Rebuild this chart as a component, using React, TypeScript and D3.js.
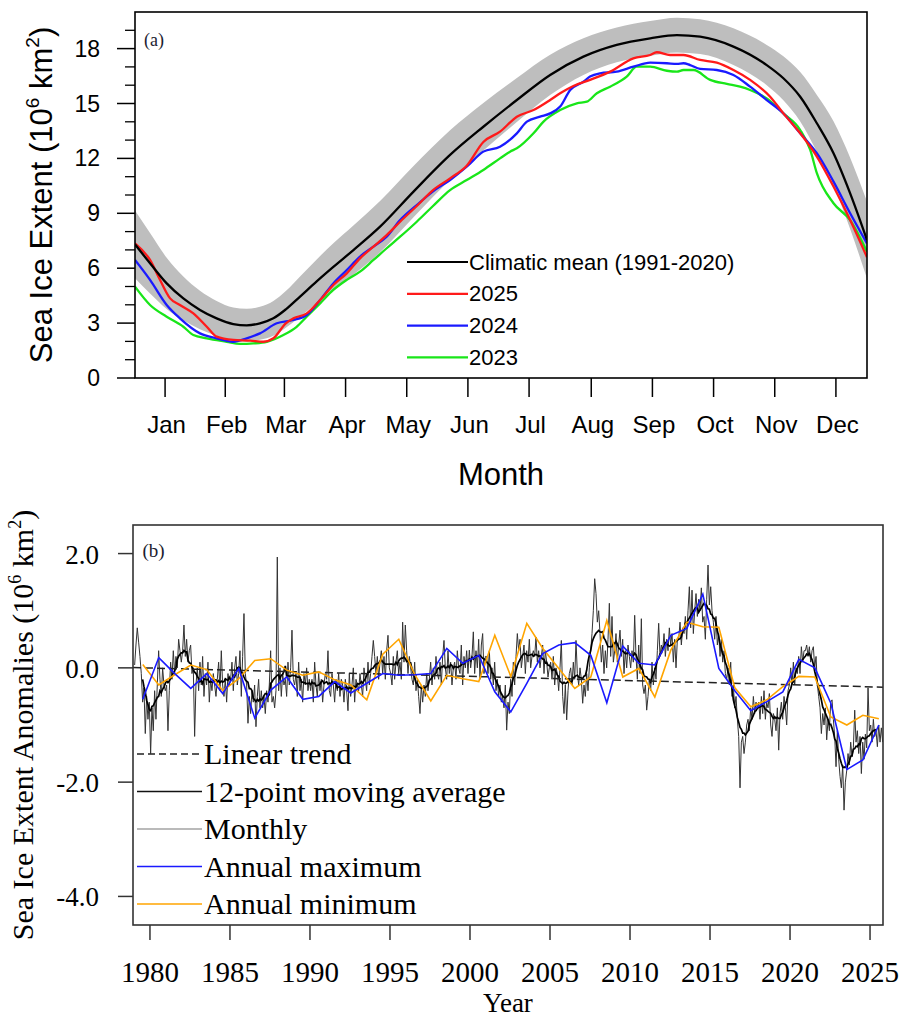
import React from "react";
import * as d3 from "d3";

// ---------- Panel (a): seasonal cycle of sea ice extent (10^6 km^2) ----------
const monthLabels = ["Jan", "Feb", "Mar", "Apr", "May", "Jun", "Jul", "Aug", "Sep", "Oct", "Nov", "Dec"];
const monthTickDays = [16, 46, 75.5, 106, 136.5, 167, 197.5, 228.5, 259, 289.5, 320, 350.5];
const extentTicks = [0, 3, 6, 9, 12, 15, 18];
const extentMinorTicks = [1, 2, 4, 5, 7, 8, 10, 11, 13, 14, 16, 17, 19];

// Climatic mean 1991-2020: [day of year, mean extent, half-width of shaded range]
const climatology: [number, number, number][] = [
  [1, 7.3, 1.85], [8.5, 6.27, 1.65], [16.8, 5.17, 1.4], [25.1, 4.35, 1.2],
  [33.4, 3.72, 1.05], [41.7, 3.26, 0.95], [50, 2.95, 0.9], [56.7, 2.88, 0.9],
  [63.3, 2.99, 0.9], [70, 3.26, 0.95], [76.2, 3.75, 1.0], [83.3, 4.45, 1.1],
  [91.6, 5.28, 1.2], [99.9, 6.07, 1.3], [109.9, 6.99, 1.35], [123.2, 8.27, 1.4],
  [140, 10.2, 1.4], [158.1, 12.19, 1.35], [174.7, 13.73, 1.3], [191.4, 15.19, 1.2],
  [208, 16.56, 1.1], [224.6, 17.56, 1.0], [241.2, 18.2, 0.95], [257.9, 18.56, 0.95],
  [271.2, 18.74, 0.95], [282.8, 18.65, 0.95], [299.4, 18.11, 1.0], [316, 17.1, 1.1],
  [324.3, 16.38, 1.2], [332.7, 15.37, 1.35], [341, 13.92, 1.55], [349.3, 12.28, 1.75],
  [357.6, 10.09, 1.95], [366, 7.54, 2.1],
];

// Daily extent for individual years: [day of year, extent]
const extent2025: [number, number][] = [
  [1, 7.36], [8.5, 6.45], [13.5, 5.36], [18.5, 4.35], [23.4, 3.99], [30.1, 3.53], [36.8, 2.8],
  [41.7, 2.26], [50, 2.08], [58.4, 2.04], [65, 1.98], [70, 2.17], [76.2, 2.99], [80, 3.26],
  [86.6, 3.53], [93.3, 4.26], [99.9, 5.08], [106.6, 5.72], [113.2, 6.54], [119.9, 7.18],
  [126.5, 7.81], [133.2, 8.54], [141.5, 9.4], [149.6, 10.27], [158.1, 10.91], [166.4, 11.6],
  [174.7, 12.9], [183, 13.46], [191.4, 14.28], [199.7, 14.64], [208, 15.19], [213, 15.56],
  [219.6, 15.96], [227.9, 16.29], [237.9, 16.74], [249.5, 17.47], [257.9, 17.65], [261.2, 17.8],
  [267.8, 17.65], [274.5, 17.65], [282.8, 17.38], [291.1, 17.23], [299.4, 16.83], [307.7, 16.29],
  [317.7, 15.37], [324.3, 14.46], [332.7, 13.37], [341, 12.1], [349.3, 10.46], [357.6, 8.63],
  [366, 6.6],
];

const extent2024: [number, number][] = [
  [1, 6.45], [8.5, 5.36], [16.8, 3.99], [23.4, 3.26], [33.4, 2.44], [41.7, 2.17], [50, 1.98],
  [56.7, 2.17], [63.3, 2.44], [71.7, 2.99], [80, 3.17], [86.6, 3.44], [93.3, 4.26], [99.9, 5.17],
  [106.6, 5.9], [113.2, 6.63], [119.9, 7.18], [126.5, 7.72], [133.2, 8.63], [141.5, 9.45],
  [149.6, 10.2], [158.1, 10.82], [166.4, 11.55], [174.7, 12.37], [183, 12.64], [191.4, 13.37],
  [196.4, 14.01], [203, 14.28], [208, 14.46], [213, 14.83], [218, 15.74], [224.6, 16.19],
  [227.9, 16.47], [232.9, 16.65], [241.2, 16.74], [249.5, 17.01], [257.9, 17.23], [266.2, 17.2],
  [271.2, 17.16], [274.5, 17.2], [277.8, 17.1], [282.8, 16.89], [291.1, 16.83], [299.4, 16.56],
  [307.7, 15.92], [316, 15.19], [324.3, 14.46], [332.7, 13.37], [341, 12.28], [349.3, 10.73],
  [357.6, 9.0], [366, 7.35],
];

const extent2023: [number, number][] = [
  [1, 4.99], [8.5, 3.99], [16.8, 3.35], [25.1, 2.8], [30.1, 2.35], [36.8, 2.17], [46.7, 1.98],
  [53.4, 1.86], [60, 1.89], [66.7, 1.98], [75, 2.35], [81.6, 2.8], [86.6, 3.35], [93.3, 4.08],
  [99.9, 4.81], [106.6, 5.36], [113.2, 5.81], [119.9, 6.45], [126.5, 7.09], [133.2, 7.72],
  [141.5, 8.54], [149.6, 9.4], [158.1, 10.27], [166.4, 10.82], [174.7, 11.37], [183, 12.0],
  [188, 12.37], [191.4, 12.55], [199.7, 13.37], [204.7, 14.01], [213, 14.64], [221.3, 15.01],
  [226.3, 15.1], [231.3, 15.56], [237.9, 15.92], [246.2, 16.47], [251.2, 17.01], [257.9, 17.01],
  [266.2, 16.79], [271.2, 16.74], [274.5, 16.83], [279.5, 16.83], [287.8, 16.29], [296.1, 16.07],
  [302.7, 15.92], [307.7, 15.74], [316, 15.28], [324.3, 14.46], [332.7, 13.55], [337.7, 12.46],
  [341, 11.19], [349.3, 9.55], [357.6, 8.63], [366, 6.9],
];

// ---------- Panel (b): monthly extent anomalies (10^6 km^2) ----------
const firstYear = 1979;
// One row per year, January to December (last year ends in October)
const monthlyAnomalies: number[][] = [
  [0.05, 0.4, 0.7, 0.45, 0.2, -0.1, -0.6, -0.35, -1.15, -0.5, -0.9, -0.6], // 1979
  [-1.5, -0.7, -1.1, -0.4, -0.9, -0.3, 0.3, -0.2, -0.5, 0.0, -0.3, -0.4],
  [-0.3, -1.1, -0.4, 0.1, -0.2, 0.3, -0.1, 0.2, 0.0, 0.5, 0.3, 0.1],
  [0.3, 0.75, 0.2, 0.5, 0.1, 0.3, 0.4, -0.1, 0.0, -1.2, -0.3, 0.0],
  [-0.4, 0.1, -0.3, 0.2, -0.5, -0.1, -0.3, 0.1, -0.6, -0.2, -0.4, -0.1],
  [-0.3, -0.5, -0.2, 0.1, -0.4, 0.3, -0.3, -0.5, -0.2, -0.6, -0.1, -0.3], // 1984
  [-0.2, 0.1, -0.4, 0.0, 0.2, -0.3, -0.1, 0.3, -0.5, 0.2, 0.95, -0.1],
  [-0.3, -0.97, -0.5, -0.8, -0.4, -0.6, -0.3, -1.03, -0.5, -0.2, -0.7, -0.4],
  [-0.7, -0.5, -0.8, -0.4, -0.6, -0.3, 0.3, -0.6, -0.5, -0.7, -0.4, 1.94],
  [-0.4, 0.0, -0.5, -0.1, -0.3, -0.2, -0.5, 0.1, -0.3, 0.0, 0.66, -0.2],
  [-0.3, -0.1, -0.5, 0.1, -0.4, -0.2, -0.6, -0.1, -0.3, 0.0, -0.4, -0.2], // 1989
  [-0.4, -0.2, -0.6, 0.1, -0.3, -0.5, -0.1, -0.4, -0.2, -0.6, -0.3, -0.1],
  [-0.2, 0.3, -0.4, -0.5, -0.1, -0.3, -0.6, -0.2, -0.4, -0.1, -0.5, -0.2],
  [-0.3, -0.6, -0.2, -0.4, -0.75, -0.1, -0.5, -0.3, 0.0, -0.6, -0.2, -0.3],
  [-0.4, -0.1, -0.3, -0.5, 0.0, -0.2, -0.4, 0.1, -0.3, -0.1, 0.2, 0.48],
  [0.2, -0.1, 0.2, -0.2, 0.1, 0.3, -0.1, 0.2, -0.2, 0.3, 0.57, 0.0], // 1994
  [-0.1, -0.3, 0.2, -0.2, 0.1, 0.3, -0.1, 0.1, -0.2, 0.8, 0.1, 0.75],
  [0.3, -0.1, 0.2, 0.0, -0.2, -0.3, 0.1, -0.4, -0.2, -0.5, -0.8, -0.3],
  [-0.6, -0.3, -0.5, -0.1, -0.4, -0.2, 0.1, -0.3, 0.0, -0.2, 0.2, -0.1],
  [-0.2, 0.1, -0.3, 0.2, 0.48, 0.0, -0.2, 0.3, -0.1, 0.1, -0.3, 0.0],
  [0.1, -0.2, 0.3, 0.0, -0.1, 0.4, -0.3, 0.2, 0.0, 0.3, -0.1, 0.31], // 1999
  [0.0, 0.2, 0.63, -0.1, 0.3, 0.0, 0.5, -0.2, 0.4, 0.6, -0.1, 0.2],
  [0.2, -0.1, 0.3, -0.2, 0.0, -0.3, 0.1, -0.4, -0.2, -0.5, -0.3, -0.6],
  [-0.5, -0.7, -0.3, -1.09, -0.6, -0.8, -0.2, -0.5, 0.1, -0.3, 0.2, 0.6],
  [0.3, 0.5, 0.0, 0.2, 0.4, -0.1, 0.3, 0.1, 0.5, 0.0, 0.2, 0.3],
  [0.2, 0.54, 0.1, 0.3, 0.0, 0.2, 0.4, -0.1, 0.3, 0.1, -0.16, 0.0], // 2004
  [0.1, -0.2, 0.2, -0.3, 0.0, -0.1, -0.4, 0.0, 0.48, -0.5, -0.8, -0.3],
  [-0.91, -0.4, -0.1, 0.0, -0.3, 0.1, -0.2, 0.48, -0.1, -0.3, 0.0, -0.2],
  [-0.62, -0.3, -0.5, -0.1, -0.4, 0.0, 0.3, 0.6, 1.0, 1.56, 1.3, 0.8],
  [1.0, 0.6, 0.1, 0.4, -0.1, 0.3, 0.0, 0.5, 1.13, 0.2, 0.9, 0.1],
  [0.3, 0.6, 0.1, 0.4, 0.66, 0.2, 0.5, -0.1, 0.3, 0.0, 0.4, 0.2], // 2009
  [0.0, 0.3, 0.1, 0.92, 0.2, -0.2, 0.4, -0.1, 0.86, -0.3, -0.45, -0.3],
  [-0.74, -0.5, -0.2, -0.4, 0.1, -0.3, 0.0, -0.2, 0.3, 0.78, 0.2, 0.4],
  [0.3, 0.6, 0.2, 0.5, 0.3, 0.7, 0.4, 0.6, 0.1, 0.5, 0.0, 0.5],
  [0.5, 0.8, 0.4, 0.7, 0.6, 0.9, 0.5, 1.0, 1.42, 0.7, 1.36, 0.6],
  [1.0, 1.3, 0.9, 1.2, 1.0, 1.4, 0.8, 0.9, 0.5, 1.2, 1.8, 1.1], // 2014
  [1.42, 1.0, 0.8, 0.5, 0.9, 0.4, 0.6, 0.2, 0.5, 0.1, 0.3, -0.1],
  [-0.2, 0.0, -0.3, 0.1, -0.5, -0.3, -0.7, -0.5, -0.9, -1.2, -2.1, -1.3],
  [-1.2, -1.5, -1.3, -1.0, -0.9, -1.1, -0.7, -0.9, -0.5, -0.8, -0.6, -0.7],
  [-0.6, -0.9, -0.5, -0.8, -0.4, -0.9, -0.6, -0.7, -0.45, -1.0, -1.2, -0.8],
  [-0.9, -1.1, -0.7, -1.44, -0.8, -0.6, -0.9, -0.5, -0.7, -1.0, -0.4, -0.3], // 2019
  [0.0, -0.3, 0.1, -0.3, 0.0, -0.1, 0.2, -0.1, 0.37, 0.1, 0.3, 0.3],
  [0.4, 0.2, 0.37, 0.1, 0.3, 0.37, 0.0, 0.2, -0.3, -0.5, -0.7, -1.15],
  [-0.8, -1.0, -0.7, -1.26, -0.9, -1.1, -0.6, -0.56, -0.9, -1.2, -1.73, -1.1],
  [-1.6, -1.9, -2.1, -1.7, -2.49, -2.0, -1.8, -1.5, -1.7, -1.3, -1.56, -1.4],
  [-0.74, -1.3, -1.1, -1.5, -1.2, -1.85, -1.3, -1.6, -1.16, -1.4, -0.35, -1.1], // 2024
  [-1.0, -1.3, -0.9, -1.2, -1.1, -1.38, -1.0, -1.3, -1.05, -1.3],
];

// Anomaly of the annual maximum / minimum extent, 1979-2025
const annualMaxAnomaly = [
  -0.55, 0.18, -0.1, -0.36, -0.1, -0.45, -0.01, -0.88, -0.39, -0.16,
  -0.55, -0.5, -0.24, -0.44, -0.27, -0.1, -0.13, -0.12, -0.1, 0.34,
  0.08, 0.22, -0.42, -0.77, -0.27, 0.25, 0.4, 0.44, 0.22, -0.61,
  0.38, 0.08, 0.05, 0.57, 0.69, 1.29, -0.01, -0.4, -0.75, -0.59,
  -0.42, 0.15, 0.0, -0.62, -1.78, -1.61, -1.0,
];
const annualMinAnomaly = [
  0.06, -0.3, -0.12, 0.05, -0.03, -0.4, -0.19, 0.13, 0.16, -0.04,
  -0.13, -0.07, -0.21, -0.3, -0.56, 0.24, 0.5, -0.12, -0.58, -0.13,
  -0.19, -0.24, 0.57, -0.15, 0.78, 0.34, -0.01, -0.36, -0.16, 0.83,
  -0.16, -0.01, -0.51, 0.31, 0.8, 0.72, 0.71, -0.35, -0.68, -0.56,
  -0.33, -0.15, -0.16, -0.86, -1.0, -0.83, -0.89,
];

const yearTicks = [1980, 1985, 1990, 1995, 2000, 2005, 2010, 2015, 2020, 2025];
const anomalyTicks = [2, 0, -2, -4];

// ---------- layout ----------
const W = 902;
const H = 1020;
const A = { left: 135, right: 867, top: 12, bottom: 378 };
const B = { left: 133, right: 883, top: 525, bottom: 925 };
const SANS = "'Liberation Sans', Arial, Helvetica, sans-serif";
const SERIF = "'Liberation Serif', 'Times New Roman', serif";

const RED = "#ff1a1a";
const BLUE = "#1a1aff";
const GREEN = "#19e619";
const ORANGE = "#ffa500";

type Pt = { t: number; v: number };

export default function App() {
  // ----- panel (a) scales and shapes -----
  const xA = d3.scaleLinear().domain([1, 366]).range([A.left, A.right]);
  const yA = d3.scaleLinear().domain([0, 20]).range([A.bottom, A.top]);
  const lineA = d3
    .line<[number, number]>()
    .x((d) => xA(d[0]))
    .y((d) => yA(d[1]))
    .curve(d3.curveMonotoneX);
  const meanPath = d3
    .line<[number, number, number]>()
    .x((d) => xA(d[0]))
    .y((d) => yA(d[1]))
    .curve(d3.curveMonotoneX)(climatology);
  const bandPath = d3
    .area<[number, number, number]>()
    .x((d) => xA(d[0]))
    .y0((d) => yA(d[1] - d[2]))
    .y1((d) => yA(d[1] + d[2]))
    .curve(d3.curveMonotoneX)(climatology);

  const legendA = [
    { label: "Climatic mean (1991-2020)", color: "#000" },
    { label: "2025", color: RED },
    { label: "2024", color: BLUE },
    { label: "2023", color: GREEN },
  ];

  // ----- panel (b) scales and derived series -----
  const xB = d3.scaleLinear().domain([1978.94, 2025.81]).range([B.left, B.right]);
  const yB = d3.scaleLinear().domain([-4.5, 2.5]).range([B.bottom, B.top]);

  const monthly: Pt[] = monthlyAnomalies.flatMap((row, yi) =>
    row.map((v, m) => ({ t: firstYear + yi + (m + 0.5) / 12, v }))
  );

  // centred 12-month running mean (only where the full window exists)
  const movingAvg: Pt[] = [];
  for (let i = 6; i + 6 <= monthly.length; i++) {
    const w = monthly.slice(i - 6, i + 6);
    movingAvg.push({ t: monthly[i].t, v: d3.mean(w, (e) => e.v) as number });
  }

  // least-squares linear trend of the monthly anomalies
  const tMean = d3.mean(monthly, (d) => d.t) as number;
  const vMean = d3.mean(monthly, (d) => d.v) as number;
  const slope =
    (d3.sum(monthly, (d) => (d.t - tMean) * (d.v - vMean)) as number) /
    (d3.sum(monthly, (d) => (d.t - tMean) ** 2) as number);
  const [t0, t1] = xB.domain();
  const trend: Pt[] = [
    { t: t0, v: vMean + slope * (t0 - tMean) },
    { t: t1, v: vMean + slope * (t1 - tMean) },
  ];

  const annualMax: Pt[] = annualMaxAnomaly.map((v, i) => ({ t: firstYear + i + 0.55, v }));
  const annualMin: Pt[] = annualMinAnomaly.map((v, i) => ({ t: firstYear + i + 0.55, v }));

  const lineB = d3
    .line<Pt>()
    .x((d) => xB(d.t))
    .y((d) => yB(d.v));

  const legendB = [
    { label: "Linear trend", color: "#222", width: 1.5, dash: "7,4" },
    { label: "12-point moving average", color: "#111", width: 1.6, dash: undefined },
    { label: "Monthly", color: "#777", width: 1.2, dash: undefined },
    { label: "Annual maximum", color: BLUE, width: 1.6, dash: undefined },
    { label: "Annual minimum", color: ORANGE, width: 1.6, dash: undefined },
  ];

  return (
    <svg
      width={W}
      height={H}
      viewBox={`0 0 ${W} ${H}`}
      style={{ position: "absolute", left: 0, top: 0, background: "#fff" }}
    >
      <defs>
        <clipPath id="clip-a">
          <rect x={A.left} y={A.top} width={A.right - A.left} height={A.bottom - A.top} />
        </clipPath>
        <clipPath id="clip-b">
          <rect x={B.left} y={B.top} width={B.right - B.left} height={B.bottom - B.top} />
        </clipPath>
      </defs>

      {/* ================= Panel (a) ================= */}
      <g clipPath="url(#clip-a)">
        <path d={bandPath || ""} fill="#bebebe" stroke="none" />
        <path d={lineA(extent2023) || ""} fill="none" stroke={GREEN} strokeWidth={2.3} />
        <path d={lineA(extent2024) || ""} fill="none" stroke={BLUE} strokeWidth={2.3} />
        <path d={lineA(extent2025) || ""} fill="none" stroke={RED} strokeWidth={2.3} />
        <path d={meanPath || ""} fill="none" stroke="#000" strokeWidth={2.3} />
      </g>

      {/* legend (a) */}
      {legendA.map((d, i) => {
        const y = 262 + i * 31.8;
        return (
          <g key={d.label}>
            <line x1={407} x2={468} y1={y} y2={y} stroke={d.color} strokeWidth={2.2} />
            <text x={469} y={y + 7.5} fontFamily={SANS} fontSize={22} fill="#000">
              {d.label}
            </text>
          </g>
        );
      })}

      {/* axes (a) */}
      <rect
        x={A.left}
        y={A.top}
        width={A.right - A.left}
        height={A.bottom - A.top}
        fill="none"
        stroke="#000"
        strokeWidth={1.6}
      />
      {extentTicks.map((v) => (
        <g key={`ya${v}`}>
          <line x1={A.left - 18} x2={A.left} y1={yA(v)} y2={yA(v)} stroke="#000" strokeWidth={1.5} />
          <text
            x={100}
            y={yA(v) + 8}
            textAnchor="end"
            fontFamily={SANS}
            fontSize={23}
            fill="#000"
          >
            {v}
          </text>
        </g>
      ))}
      {extentMinorTicks.map((v) => (
        <line
          key={`yam${v}`}
          x1={A.left - 10}
          x2={A.left}
          y1={yA(v)}
          y2={yA(v)}
          stroke="#000"
          strokeWidth={1.3}
        />
      ))}
      {monthTickDays.map((day, i) => (
        <g key={`xa${i}`}>
          <line x1={xA(day)} x2={xA(day)} y1={A.bottom} y2={A.bottom + 19} stroke="#000" strokeWidth={1.5} />
          <text
            x={xA(day) + 1.5}
            y={433}
            textAnchor="middle"
            fontFamily={SANS}
            fontSize={24}
            fill="#000"
          >
            {monthLabels[i]}
          </text>
        </g>
      ))}
      <text x={(A.left + A.right) / 2} y={485} textAnchor="middle" fontFamily={SANS} fontSize={31} fill="#000">
        Month
      </text>
      <text
        transform={`translate(52,${(A.top + A.bottom) / 2}) rotate(-90)`}
        textAnchor="middle"
        fontFamily={SANS}
        fontSize={31}
        fill="#000"
      >
        Sea Ice Extent (10
        <tspan fontSize={19} dy={-13}>
          6
        </tspan>
        <tspan dy={13}> km</tspan>
        <tspan fontSize={19} dy={-13}>
          2
        </tspan>
        <tspan dy={13}>)</tspan>
      </text>
      <text x={144} y={46} fontFamily={SERIF} fontSize={18} fill="#1c1c30">
        (a)
      </text>

      {/* ================= Panel (b) ================= */}
      <g clipPath="url(#clip-b)">
        <path d={lineB(monthly) || ""} fill="none" stroke="#333" strokeWidth={1} strokeLinejoin="round" />
        <path d={lineB(movingAvg) || ""} fill="none" stroke="#000" strokeWidth={1.7} />
        <path d={lineB(trend) || ""} fill="none" stroke="#222" strokeWidth={1.5} strokeDasharray="8,4" />
        <path d={lineB(annualMin) || ""} fill="none" stroke={ORANGE} strokeWidth={1.6} />
        <path d={lineB(annualMax) || ""} fill="none" stroke={BLUE} strokeWidth={1.6} />
      </g>

      {/* legend (b) */}
      {legendB.map((d, i) => {
        const y = 754 + i * 37.5;
        return (
          <g key={d.label}>
            <line
              x1={137}
              x2={202}
              y1={y}
              y2={y}
              stroke={d.color}
              strokeWidth={d.width}
              strokeDasharray={d.dash}
            />
            <text x={204} y={y + 10} fontFamily={SERIF} fontSize={30} fill="#000">
              {d.label}
            </text>
          </g>
        );
      })}

      {/* axes (b) */}
      <rect
        x={B.left}
        y={B.top}
        width={B.right - B.left}
        height={B.bottom - B.top}
        fill="none"
        stroke="#333"
        strokeWidth={1.6}
      />
      {anomalyTicks.map((v) => (
        <g key={`yb${v}`}>
          <line x1={B.left - 15} x2={B.left} y1={yB(v)} y2={yB(v)} stroke="#333" strokeWidth={1.5} />
          <text x={99} y={yB(v) + 10} textAnchor="end" fontFamily={SERIF} fontSize={27} fill="#000">
            {v.toFixed(1)}
          </text>
        </g>
      ))}
      {yearTicks.map((yr) => (
        <g key={`xb${yr}`}>
          <line x1={xB(yr)} x2={xB(yr)} y1={B.bottom} y2={B.bottom + 15} stroke="#333" strokeWidth={1.5} />
          <text x={xB(yr)} y={982} textAnchor="middle" fontFamily={SERIF} fontSize={29} fill="#000">
            {yr}
          </text>
        </g>
      ))}
      <text x={(B.left + B.right) / 2} y={1012} textAnchor="middle" fontFamily={SERIF} fontSize={27} fill="#000">
        Year
      </text>
      <text
        transform={`translate(33,${(B.top + B.bottom) / 2}) rotate(-90)`}
        textAnchor="middle"
        fontFamily={SERIF}
        fontSize={30}
        fill="#000"
      >
        Sea Ice Extent Anomalies (10
        <tspan fontSize={18} dy={-12}>
          6
        </tspan>
        <tspan dy={12}> km</tspan>
        <tspan fontSize={18} dy={-12}>
          2
        </tspan>
        <tspan dy={12}>)</tspan>
      </text>
      <text x={142.5} y={557} fontFamily={SERIF} fontSize={19} fill="#1c1c30">
        (b)
      </text>
    </svg>
  );
}
